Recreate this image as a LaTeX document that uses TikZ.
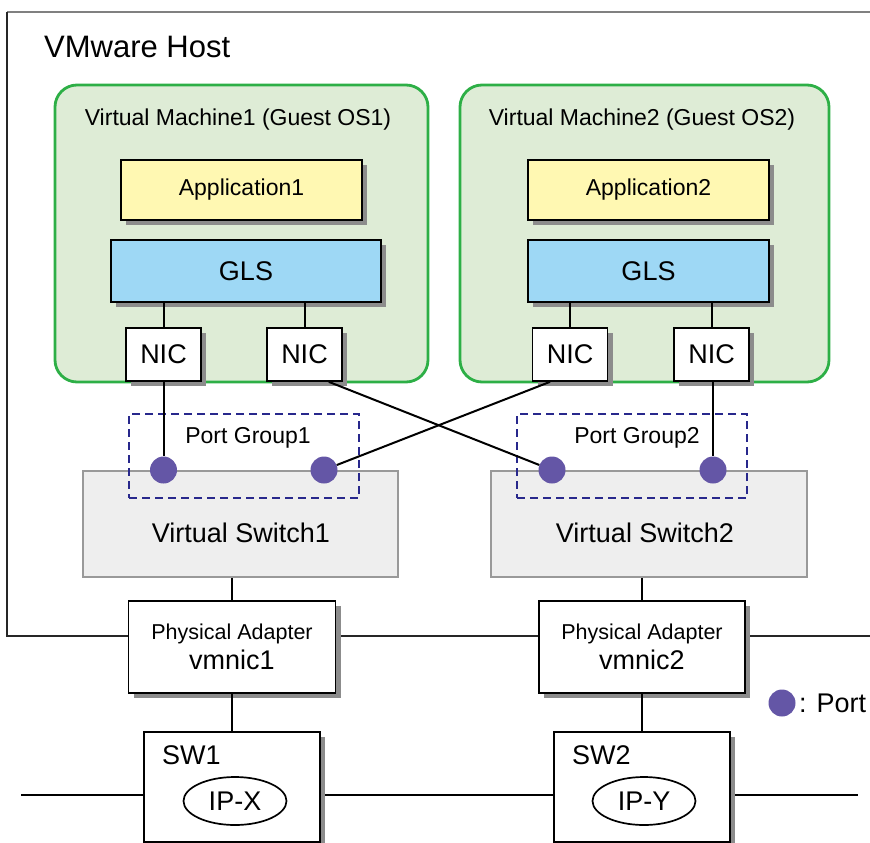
\documentclass[tikz,border=0pt]{standalone}
\usepackage{fontspec}
\setmainfont{Liberation Sans}
\usepackage{tikz}
\usetikzlibrary{shapes.geometric, shadows, positioning}

\definecolor{vmgruen}{RGB}{45,175,70}
\definecolor{vmfuell}{RGB}{222,236,214}
\definecolor{appgelb}{RGB}{255,248,178}
\definecolor{glsblau}{RGB}{158,216,245}
\definecolor{vsgrau}{RGB}{238,238,238}
\definecolor{pgblau}{RGB}{40,40,140}
\definecolor{portlila}{RGB}{100,86,166}

\tikzset{
	gross/.style={font=\fontsize{27}{32}\selectfont},
	mittel/.style={font=\fontsize{23}{27}\selectfont},
	schatten/.style={drop shadow={shadow xshift=5pt, shadow yshift=-5pt, fill=gray!90, opacity=1}},
	kasten/.style={draw, line width=1.7pt, fill=white, inner sep=0pt, schatten},
	linie/.style={line width=2pt},
	vm/.style={draw=vmgruen, fill=vmfuell, line width=2.8pt, rounded corners=22pt, inner sep=0pt, minimum width=#1, minimum height=297pt},
	vswitch/.style={draw=gray!80, fill=vsgrau, line width=1.7pt, inner sep=0pt, minimum width=#1, minimum height=106pt},
	portgruppe/.style={draw=pgblau, line width=2.6pt, dash pattern=on 8pt off 5pt, inner sep=0pt, minimum width=230pt, minimum height=84pt},
	port/.style={circle, fill=portlila, inner sep=0pt, minimum size=27pt}
}

\begin{document}
\begin{tikzpicture}[x=1pt, y=-1pt]
	\useasboundingbox (0,0) rectangle (870,843);
	
	% Host-Rahmen
	\coordinate (hostol) at (7,12);
	\coordinate (hostor) at (870,12);
	\coordinate (hostul) at (7,636);
	\coordinate (hostur) at (870,636);
	\draw[linie, gray] (hostol) -- (hostor);
	\draw[linie, black!85] (hostol) -- (hostul) -- (hostur);
	\node[anchor=west, inner sep=0pt, font=\fontsize{31}{36}\selectfont] (host) at (44,47) {VMware Host};
	
	% Netzwerk
	\coordinate (netzl) at (21,795);
	\coordinate (netzr) at (858,795);
	\draw[line width=2.8pt] (netzl) -- (netzr);
	
	% Virtuelle Maschinen
	\node[vm=373pt] (vm1) at (241.5,233.5) {};
	\node[vm=369pt] (vm2) at (644.5,233.5) {};
	\node[mittel] (vm1t) at (238,120) {Virtual Machine1 (Guest OS1)};
	\node[mittel] (vm2t) at (642,120) {Virtual Machine2 (Guest OS2)};
	
	\node[kasten, fill=appgelb, minimum width=241pt, minimum height=60pt, mittel] (app1) at (241.5,190) {Application1};
	\node[kasten, fill=appgelb, minimum width=241pt, minimum height=60pt, mittel] (app2) at (648.5,190) {Application2};
	\node[kasten, fill=glsblau, minimum width=270pt, minimum height=62pt, gross] (gls1) at (246,271) {GLS};
	\node[kasten, fill=glsblau, minimum width=241pt, minimum height=62pt, gross] (gls2) at (648.5,271) {GLS};
	
	% NICs
	\foreach \n/\x in {1/163.5,2/304.5,3/570,4/711.5}
		\node[kasten, minimum width=75pt, minimum height=53pt, gross] (nic\n) at (\x,354.5) {NIC};
	\draw[linie] (gls1.south -| nic1) -- (nic1.north);
	\draw[linie] (gls1.south -| nic2) -- (nic2.north);
	\draw[linie] (gls2.south -| nic3) -- (nic3.north);
	\draw[linie] (gls2.south -| nic4) -- (nic4.north);
	
	% Virtuelle Switches und Portgruppen
	\node[vswitch=315pt] (vs1) at (240.5,524) {};
	\node[vswitch=316pt] (vs2) at (649,524) {};
	\node[gross] (vs1t) at (241,533) {Virtual Switch1};
	\node[gross] (vs2t) at (645,533) {Virtual Switch2};
	\node[portgruppe] (pg1) at (244,456) {};
	\node[portgruppe] (pg2) at (632,456) {};
	\node[mittel] (pg1t) at (248,438) {Port Group1};
	\node[mittel] (pg2t) at (637,438) {Port Group2};
	
	% Ports
	\foreach \n/\x in {1/163.5,2/324,3/552,4/713}
		\node[port] (p\n) at (\x,470) {};
	\draw[linie] (p1 |- nic1.south) -- (p1);
	\draw[linie] ([xshift=-14pt]nic2.south east) -- (p3);
	\draw[linie] ([xshift=-20pt]nic3.south) -- (p2);
	\draw[linie] (p4 |- nic4.south) -- (p4);
	
	% Physische Adapter
	\node[kasten, minimum width=207pt, minimum height=92pt, align=center] (pa1) at (232,647)
		{\fontsize{21.5}{26}\selectfont Physical Adapter\\[5pt]\fontsize{27}{26}\selectfont vmnic1};
	\node[kasten, minimum width=206pt, minimum height=92pt, align=center] (pa2) at (642,647)
		{\fontsize{21.5}{26}\selectfont Physical Adapter\\[5pt]\fontsize{27}{26}\selectfont vmnic2};
	\draw[linie] (pa1.north |- vs1.south) -- (pa1.north);
	\draw[linie] (pa2.north |- vs2.south) -- (pa2.north);
	
	% Switches
	\node[kasten, minimum width=176pt, minimum height=110pt] (sw1) at (232,787) {};
	\node[kasten, minimum width=176pt, minimum height=110pt] (sw2) at (642,787) {};
	\node[gross, anchor=west, inner sep=0pt] (sw1t) at (162,755) {SW1};
	\node[gross, anchor=west, inner sep=0pt] (sw2t) at (572,755) {SW2};
	\node[ellipse, draw, line width=1.7pt, minimum width=103pt, minimum height=48pt, inner sep=0pt, gross] (ipx) at (235,801) {IP-X};
	\node[ellipse, draw, line width=1.7pt, minimum width=103pt, minimum height=48pt, inner sep=0pt, gross] (ipy) at (644,801) {IP-Y};
	\draw[linie] (pa1.south) -- (sw1.north);
	\draw[linie] (pa2.south) -- (sw2.north);
	
	% Legende
	\node[port] (legport) at (782,703) {};
	\node[gross, anchor=west, inner sep=0pt] (legtext) at (799,703) {: Port};
\end{tikzpicture}
\end{document}
